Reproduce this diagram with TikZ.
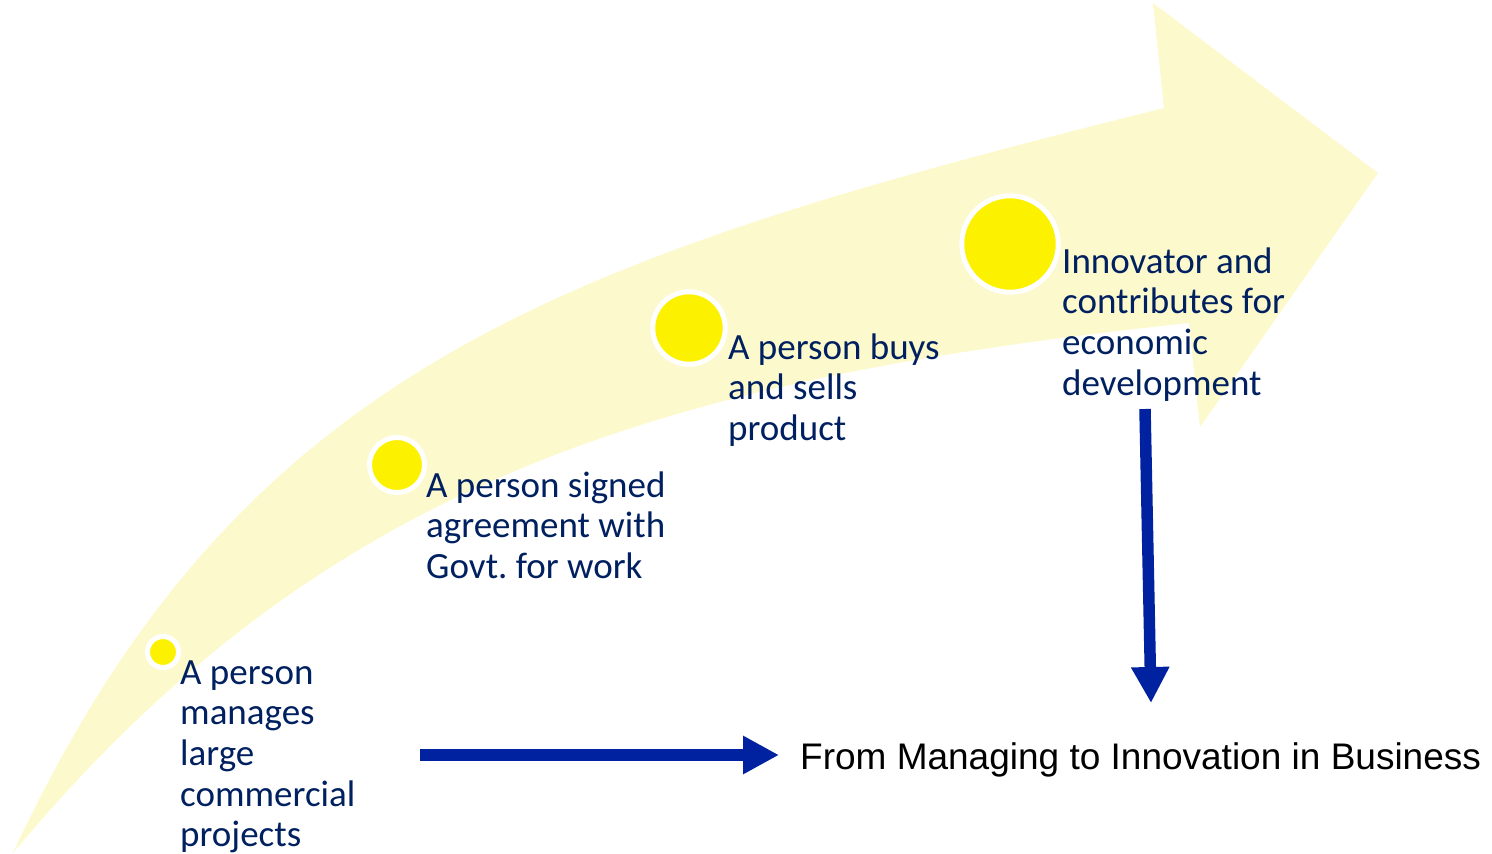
\documentclass[tikz,border=0pt]{standalone}
\usepackage{fontspec}
\newfontfamily\carlito{Carlito}
\newfontfamily\arialfont{Liberation Sans}
\usetikzlibrary{arrows.meta}
\definecolor{pale}{RGB}{252,249,204}
\definecolor{dot}{RGB}{252,242,0}
\definecolor{navy}{RGB}{0,32,96}
\definecolor{arrowblue}{RGB}{0,33,160}
\frenchspacing
\tikzset{
  dotnode/.style={circle, fill=dot, draw=white, line width=5pt, inner sep=0pt},
  lbl/.style={anchor=base west, inner sep=0pt, align=left, text=navy,
    font=\carlito\fontsize{37}{40.7}\selectfont},
  bluearrow/.style={draw=arrowblue, line width=11.5pt,
    -{Triangle[length=36pt,width=36pt]}}
}
\begin{document}
\begin{tikzpicture}[x=1pt,y=-1pt]
\useasboundingbox (0,0) rectangle (1492,854);
% big curved arrow
\fill[pale] (13,853) .. controls (240,365) and (564,258) .. (1164,108)
  -- (1153,3) -- (1378,173) -- (1200,427) -- (1189,323)
  .. controls (650,380) and (320,485) .. (13,853) -- cycle;
% dots
\node[dotnode, minimum size=31pt] (d1) at (163,652) {};
\node[dotnode, minimum size=55pt] (d2) at (397,465) {};
\node[dotnode, minimum size=72.5pt] (d3) at (689,328) {};
\node[dotnode, minimum size=96.5pt] (d4) at (1010,244) {};
% labels (anchor at baseline of last line)
\node[lbl] (l1) at (180,846.8) {A person\\manages\\large\\commercial\\projects};
\node[lbl] (l2) at (426,578.4) {A person signed\\agreement with\\Govt. for work};
\node[lbl] (l3) at (728,440.4) {A person buys\\and sells\\product};
\node[lbl] (l4) at (1062,395.1) {Innovator and\\contributes for\\economic\\development};
% title
\node[anchor=base west, inner sep=0pt, font=\arialfont\fontsize{37}{40}\selectfont] (title) at (800,769) {From Managing to Innovation in Business};
% blue arrows
\coordinate (hs) at (420,755);
\coordinate (he) at (779,755);
\coordinate (vs) at (1145,409);
\coordinate (ve) at (1151,703);
\draw[bluearrow] (hs) -- (he);
\draw[bluearrow] (vs) -- (ve);
\end{tikzpicture}
\end{document}
